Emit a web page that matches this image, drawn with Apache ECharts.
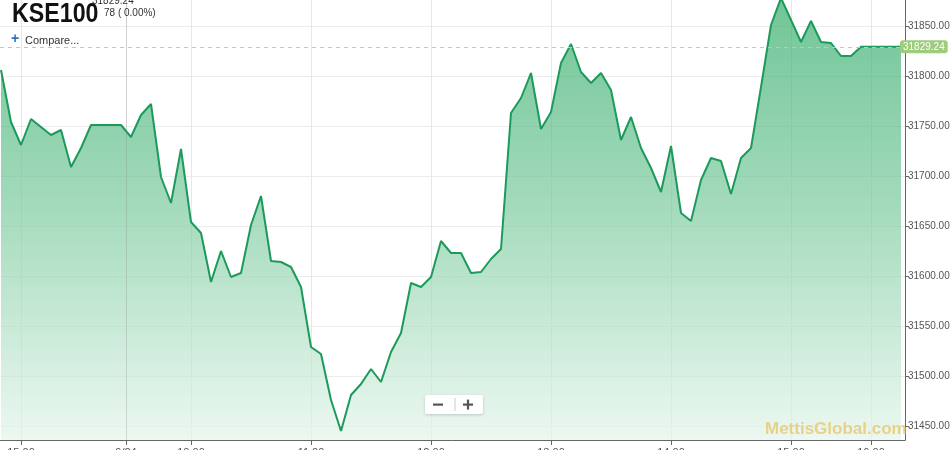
<!DOCTYPE html>
<html>
<head>
<meta charset="utf-8">
<script src="https://cdn.jsdelivr.net/npm/echarts@6/dist/echarts.min.js"></script>
<style>html,body{margin:0;padding:0;background:#fff}#c{width:950px;height:450px}</style>
</head>
<body>
<div id="c"></div>
<script>
// KSE100 values, one every 5 minutes (ordinal positions 0..90)
const prices = [
  31806, 31754, 31731, 31757, 31749, 31741, 31746, 31709, 31728, 31751,
  31751, 31751, 31751, 31739, 31761, 31772, 31699, 31673, 31727, 31654,
  31643, 31594, 31625, 31599, 31603, 31651, 31680, 31615, 31614, 31609,
  31589, 31529, 31522, 31476, 31445, 31481, 31492, 31507, 31494, 31524,
  31543, 31593, 31589, 31599, 31635, 31623, 31623, 31603, 31604, 31617,
  31627, 31763, 31778, 31803, 31747, 31764, 31813, 31832, 31804, 31793,
  31803, 31786, 31736, 31759, 31728, 31708, 31684, 31730, 31663, 31655,
  31696, 31718, 31715, 31682, 31718, 31728, 31789, 31851, 31878, 31856,
  31834, 31855, 31834, 31833, 31820, 31820, 31829.24, 31829.24, 31829.24, 31829.24,
  31829.24
];
const lastPrice = 31829.24;
const xTickPositions = [2, 12.5, 19, 31, 43, 55, 67, 79, 87];
const xTickLabels = ['15:00', '9/24', '10:00', '11:00', '12:00', '13:00', '14:00', '15:00', '16:00'];
const dayBreakPosition = 12.5;
const yTickValues = [31450, 31500, 31550, 31600, 31650, 31700, 31750, 31800, 31850];

const chart = echarts.init(document.getElementById('c'), null, {renderer: 'canvas'});
const seriesData = prices.map((v, i) => [i, v]);

chart.setOption({
  animation: false,
  backgroundColor: '#ffffff',
  grid: {left: 0, right: 45, top: 0, bottom: 10, containLabel: false, outerBoundsMode: 'none'},
  xAxis: {
    type: 'value',
    min: -0.1,
    max: 90.4,
    axisLine: {show: true, onZero: false, lineStyle: {color: '#666', width: 1}},
    axisTick: {show: true, length: 5, lineStyle: {color: '#666'}, customValues: xTickPositions},
    axisLabel: {
      customValues: xTickPositions,
      margin: 7,
      fontSize: 11,
      color: '#555',
      fontFamily: 'Arial, Liberation Sans, sans-serif',
      formatter: v => {
        const i = xTickPositions.indexOf(v);
        return i >= 0 ? xTickLabels[i] : '';
      }
    },
    splitLine: {show: true, lineStyle: {color: '#e8e8e8', width: 1}}
  },
  yAxis: {
    type: 'value',
    position: 'right',
    min: 31436,
    max: 31876,
    axisLine: {show: true, onZero: false, lineStyle: {color: '#666', width: 1}},
    axisTick: {show: true, length: 4, lineStyle: {color: '#666'}, customValues: yTickValues},
    axisLabel: {
      customValues: yTickValues,
      margin: 3,
      fontSize: 10,
      color: '#555',
      fontFamily: 'Arial, Liberation Sans, sans-serif',
      formatter: v => v.toFixed(2)
    },
    splitLine: {show: true, lineStyle: {color: '#ececec', width: 1}}
  },
  series: [{
    type: 'line',
    data: seriesData,
    showSymbol: false,
    symbol: 'none',
    lineStyle: {color: '#1c9a5b', width: 2},
    areaStyle: {
      color: new echarts.graphic.LinearGradient(0, 0, 0, 1, [
        {offset: 0, color: '#34ac6a'},
        {offset: 0.45, color: '#78c99c'},
        {offset: 1, color: '#e4f5eb'}
      ])
    },
    markLine: {
      silent: true,
      symbol: ['none', 'none'],
      data: [
        {
          yAxis: lastPrice,
          lineStyle: {color: '#c4c4c4', type: [4, 4], width: 1},
          label: {
            show: true,
            position: 'end',
            distance: -5,
            formatter: () => lastPrice.toFixed(2),
            color: '#ffffff',
            fontSize: 10,
            fontFamily: 'Arial, Liberation Sans, sans-serif',
            backgroundColor: '#9dcc7d',
            borderRadius: 3,
            padding: [2, 3, 1, 3]
          }
        },
        {
          xAxis: dayBreakPosition,
          lineStyle: {color: 'rgba(150,150,150,0.28)', type: 'solid', width: 1},
          label: {show: false}
        }
      ]
    }
  }],
  graphic: [
    {type: 'text', z: 100, left: 12, top: 1, scaleX: 0.86, style: {text: 'KSE100', font: 'bold 27px Arial, "Liberation Sans", sans-serif', fill: '#111'}},
    {type: 'text', z: 100, left: 92, top: -4, style: {text: '31829.24', font: '10px Arial, sans-serif', fill: '#333'}},
    {type: 'text', z: 100, left: 104, top: 8, style: {text: '78 ( 0.00%)', font: '10px Arial, sans-serif', fill: '#333'}},
    {type: 'text', z: 100, left: 11, top: 32, style: {text: '+', font: 'bold 14px Arial, sans-serif', fill: '#2f6fc4'}},
    {type: 'text', z: 100, left: 25, top: 35, style: {text: 'Compare...', font: '11px Arial, sans-serif', fill: '#333'}},
    {type: 'text', z: 100, left: 765, top: 421, style: {text: 'MettisGlobal.com', font: 'bold 17px Arial, sans-serif', fill: 'rgba(232,200,110,0.8)'}},
    {
      type: 'group', z: 100, left: 425, top: 395,
      children: [
        {type: 'rect', z: 100, shape: {x: 0, y: 0, width: 58, height: 19, r: 2}, style: {fill: '#ffffff', shadowBlur: 3, shadowColor: 'rgba(0,0,0,0.18)', shadowOffsetY: 1}},
        {type: 'line', z: 101, shape: {x1: 30, y1: 3, x2: 30, y2: 16}, style: {stroke: '#ccc', lineWidth: 1}},
        {type: 'rect', z: 101, shape: {x: 8, y: 8.5, width: 10, height: 2.2}, style: {fill: '#555'}},
        {type: 'rect', z: 101, shape: {x: 38, y: 8.5, width: 10, height: 2.2}, style: {fill: '#555'}},
        {type: 'rect', z: 101, shape: {x: 41.9, y: 4.6, width: 2.2, height: 10}, style: {fill: '#555'}}
      ]
    }
  ]
});
</script>
</body>
</html>
